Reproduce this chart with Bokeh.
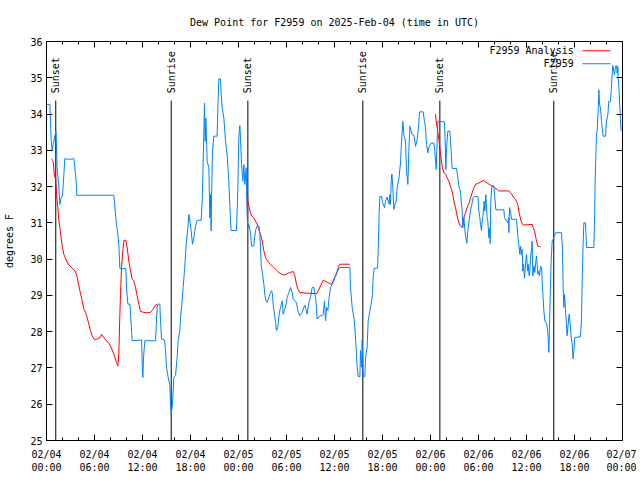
import math
from bokeh.plotting import figure
from bokeh.models import LinearAxis, FixedTicker, Label, Range1d
from bokeh.embed import file_html
from bokeh.resources import INLINE

FONT = "DejaVu Sans Mono"
FS = "10px"
RED = "#ff0000"
BLUE = "#0080ff"

title_text = "Dew Point for F2959 on 2025-Feb-04 (time in UTC)"
y_label = "degrees F"

# x axis: hours since 2025-02-04 00:00 UTC
x_ticks = [0, 6, 12, 18, 24, 30, 36, 42, 48, 54, 60, 66, 72]
x_tick_labels = ["02/04\n00:00", "02/04\n06:00", "02/04\n12:00", "02/04\n18:00",
                 "02/05\n00:00", "02/05\n06:00", "02/05\n12:00", "02/05\n18:00",
                 "02/06\n00:00", "02/06\n06:00", "02/06\n12:00", "02/06\n18:00",
                 "02/07\n00:00"]
x_minor_ticks = list(range(0, 73, 2))
y_ticks = [25, 26, 27, 28, 29, 30, 31, 32, 33, 34, 35, 36]

# observations (F2959)
obs_hours = [
    0.08, 0.42, 0.58, 0.71, 0.83, 1.00, 1.17, 1.33, 1.54, 1.67, 1.83, 2.00, 2.17, 2.29, 2.79, 3.42,
    3.54, 3.71, 3.79, 8.42, 8.50, 8.63, 8.75, 8.92, 9.04, 9.17, 9.92, 10.00, 10.17, 10.42, 10.50,
    10.63, 10.71, 11.88, 11.96, 12.04, 12.13, 12.29, 13.63, 13.71, 13.83, 13.92, 14.17, 14.25,
    14.38, 14.75, 14.88, 15.00, 15.21, 15.42, 15.50, 15.58, 15.75, 15.92, 16.13, 16.33, 16.46,
    16.67, 16.79, 16.92, 17.08, 17.25, 17.38, 17.50, 17.67, 17.79, 17.92, 18.08, 18.25, 18.42,
    18.63, 18.83, 19.33, 19.46, 19.58, 19.75, 19.83, 19.92, 20.00, 20.08, 20.29, 20.42, 20.50,
    20.58, 20.67, 20.75, 20.92, 21.33, 21.42, 21.54, 21.75, 21.83, 21.96, 22.17, 22.38, 22.58,
    22.79, 23.00, 23.08, 23.75, 23.92, 24.04, 24.17, 24.25, 24.38, 24.54, 24.67, 24.79, 24.96,
    25.08, 25.17, 25.29, 25.50, 25.63, 25.92, 26.00, 26.17, 26.33, 26.54, 26.67, 26.75, 26.83,
    27.00, 27.17, 27.29, 27.42, 27.58, 27.79, 28.00, 28.13, 28.25, 28.33, 28.50, 28.63, 28.75,
    28.92, 29.08, 29.25, 29.46, 29.58, 29.75, 29.96, 30.08, 30.29, 30.50, 30.71, 30.83, 31.04,
    31.25, 31.42, 31.67, 31.96, 32.17, 32.29, 32.42, 32.58, 32.79, 33.00, 33.21, 33.42, 33.63,
    33.75, 33.83, 34.17, 34.46, 34.58, 34.75, 34.88, 35.00, 35.17, 35.33, 35.50, 35.71, 35.92,
    36.04, 36.25, 36.42, 36.63, 37.92, 38.00, 38.21, 38.42, 38.54, 38.71, 38.83, 38.96, 39.17,
    39.25, 39.38, 39.46, 39.58, 39.79, 39.88, 40.08, 40.21, 40.42, 40.58, 40.75, 40.83, 40.96,
    41.38, 41.46, 41.58, 41.67, 41.88, 42.04, 42.25, 42.38, 42.58, 42.71, 42.83, 42.92, 43.00,
    43.08, 43.17, 43.29, 43.42, 43.54, 43.71, 43.83, 44.04, 44.25, 44.38, 44.54, 44.67, 44.88,
    45.00, 45.08, 45.17, 45.29, 45.42, 45.58, 45.71, 45.92, 46.13, 46.33, 46.46, 46.63, 47.08,
    47.25, 47.38, 47.50, 47.67, 47.83, 48.08, 48.42, 48.54, 48.63, 48.71, 48.83, 48.92, 49.75,
    49.83, 49.92, 50.00, 50.17, 50.42, 50.58, 50.71, 51.25, 51.42, 51.58, 51.75, 51.83, 51.96,
    52.04, 52.17, 52.29, 52.42, 52.54, 52.67, 52.79, 53.00, 53.17, 53.33, 53.46, 53.92, 54.04,
    54.17, 54.25, 54.38, 54.46, 54.58, 54.71, 54.79, 54.92, 55.08, 55.17, 55.29, 55.38, 55.46,
    55.54, 55.67, 55.92, 56.04, 56.17, 57.17, 57.25, 57.50, 57.67, 57.75, 57.79, 57.88, 58.00,
    58.13, 58.75, 58.92, 59.04, 59.17, 59.25, 59.38, 59.46, 59.54, 59.63, 59.75, 59.88, 60.00,
    60.13, 60.21, 60.33, 60.42, 60.50, 60.63, 60.71, 60.79, 60.92, 61.04, 61.17, 61.25, 61.33,
    61.42, 61.54, 61.63, 61.75, 61.88, 62.00, 62.08, 62.17, 62.29, 62.54, 62.63, 62.71, 62.79,
    62.88, 62.96, 63.08, 63.21, 63.42, 63.63, 64.38, 64.50, 64.58, 64.67, 64.75, 64.83, 64.96,
    65.08, 65.21, 65.33, 65.46, 65.58, 65.71, 65.83, 65.92, 66.04, 66.75, 66.88, 66.96, 67.08,
    67.17, 67.38, 67.50, 68.42, 68.50, 68.58, 68.67, 68.75, 68.83, 68.96, 69.04, 69.13, 69.25,
    69.38, 69.50, 69.58, 69.88, 70.00, 70.17, 70.29, 70.50, 70.58, 70.71, 70.79, 70.92, 71.00,
    71.13, 71.21, 71.29, 71.33, 71.42, 71.46, 71.58, 71.67, 71.75, 71.83,
]
obs_values = [
    34.26, 34.26, 33.30, 32.98, 33.16, 33.34, 33.53, 32.52, 32.01, 31.51, 31.69, 31.77, 32.33, 32.77, 32.75, 32.77,
    32.52, 32.15, 31.76, 31.76, 31.55, 31.23, 30.96, 30.68, 30.41, 29.74, 29.74, 29.22, 28.76, 28.76, 28.48,
    28.03, 27.75, 27.77, 27.20, 26.74, 27.29, 27.75, 27.75, 28.12, 28.67, 28.76, 28.76, 28.30,
    27.80, 27.77, 27.48, 27.02, 26.74, 26.51, 26.01, 25.73, 26.01, 26.74, 26.79, 27.29, 27.75,
    28.03, 28.48, 28.76, 29.22, 29.68, 30.13, 30.50, 30.87, 31.23, 31.05, 30.78, 30.41, 30.59,
    30.91, 31.07, 31.07, 31.60, 32.65, 34.30, 33.25, 33.89, 33.34, 32.70, 32.52, 31.14, 31.78,
    30.78, 32.15, 32.98, 33.39, 33.39, 34.17, 34.97, 34.97, 34.58, 34.17, 33.89, 33.25, 32.88,
    32.15, 31.05, 30.79, 30.79, 31.97, 33.34, 33.68, 33.35, 32.61, 32.15, 32.61, 32.06, 32.52,
    31.19, 30.87, 30.96, 30.73, 30.36, 30.36, 30.59, 30.82, 30.91, 30.91, 30.68, 30.32, 29.86,
    29.58, 29.31, 29.03, 28.85, 28.81, 28.94, 29.08, 29.13, 29.03, 28.76, 28.48, 28.25, 28.03,
    28.12, 28.48, 28.67, 28.85, 28.48, 28.58, 28.76, 28.94, 29.08, 29.22, 29.08, 28.90, 28.85,
    28.80, 28.58, 28.44, 28.53, 28.67, 28.73, 28.62, 28.48, 28.80, 28.94, 29.22, 29.22, 28.94,
    28.67, 28.35, 28.44, 28.44, 28.48, 28.85, 28.30, 28.67, 28.58, 28.94, 29.22, 29.31, 29.40,
    29.49, 29.63, 29.68, 29.77, 29.77, 29.22, 28.67, 28.39, 28.12, 27.52, 27.02, 26.76, 26.76,
    27.48, 27.02, 27.77, 26.76, 26.76, 27.29, 27.57, 28.30, 28.57, 28.76, 29.03, 29.49, 29.75,
    29.75, 30.24, 31.23, 31.73, 31.73, 31.55, 31.42, 31.60, 31.71, 31.60, 31.51, 31.78, 31.51,
    32.10, 32.35, 31.97, 31.37, 31.51, 31.60, 31.97, 32.20, 32.65, 33.25, 33.80, 33.43, 33.25,
    32.43, 32.29, 32.06, 32.97, 33.66, 33.53, 33.43, 33.42, 33.11, 33.30, 33.53, 34.06, 34.06,
    33.80, 33.62, 33.16, 32.93, 33.11, 33.20, 33.20, 32.97, 32.70, 32.47, 33.25, 33.80, 33.78,
    33.25, 32.47, 33.07, 33.53, 33.53, 32.97, 32.50, 32.50, 32.24, 31.97, 31.88, 31.60, 31.33,
    30.87, 31.14, 30.82, 30.59, 30.44, 30.78, 31.00, 31.33, 31.51, 31.69, 31.73, 31.73, 31.33,
    31.14, 30.96, 30.79, 31.05, 31.23, 31.60, 31.33, 31.78, 31.14, 31.05, 30.59, 30.85, 30.43,
    31.60, 32.02, 32.02, 31.69, 31.36, 31.36, 31.14, 31.05, 31.00, 31.14, 30.73, 31.42, 31.31,
    31.10, 31.10, 30.64, 30.41, 30.13, 30.36, 30.13, 30.27, 29.67, 29.86, 29.47, 29.86, 30.13,
    29.67, 29.86, 29.54, 29.67, 30.00, 30.32, 30.50, 29.54, 29.81, 29.63, 29.95, 30.09, 29.86,
    29.58, 29.67, 29.54, 29.81, 29.77, 29.22, 28.94, 28.57, 28.30, 28.21, 28.03, 27.84, 27.43,
    28.21, 28.94, 29.95, 30.50, 30.59, 30.73, 30.73, 30.23, 29.22, 28.67, 29.03, 28.76, 28.30,
    27.89, 28.21, 28.48, 28.21, 27.84, 27.66, 27.25, 27.48, 27.84, 27.86, 28.39, 29.40, 30.45,
    31.00, 31.00, 30.32, 30.32, 30.96, 32.10, 32.88, 33.43, 33.53, 34.08, 34.67, 34.26, 34.17,
    33.80, 33.53, 33.39, 33.39, 33.80, 33.98, 34.35, 34.35, 34.63, 35.08, 35.34, 35.17, 35.08,
    35.31, 35.34, 35.27, 35.13, 35.31, 34.99, 34.63, 34.17, 33.80, 33.53,
]

NAN = float("nan")
# analysis (F2959 Analysis), gaps during daytime
ana_hours = [
    0.63, 0.83, 1.00, 1.17, 1.25, 1.42, 1.54, 1.67, 1.83, 2.00, 2.17, 2.50, 2.79, 3.21, 3.54,
    3.75, 3.92, 4.17, 4.46, 4.67, 4.88, 5.08, 5.29, 5.50, 5.71, 6.00, 6.33, 6.67, 6.88, 7.17,
    7.50, 7.79, 8.08, 8.42, 8.75, 8.92, 9.04, 9.17, 9.25, 9.38, 9.50, 9.67, 9.92, 10.08, 10.29,
    10.50, 10.71, 10.92, 11.13, 11.33, 11.54, 11.75, 12.17, 12.58, 13.00, 13.33, 13.63, 13.83,
    NAN,
    25.08, 25.17, 25.42, 25.63, 25.92, 26.13, 26.33, 26.54, 26.75, 26.96, 27.17, 27.38, 27.58,
    27.79, 28.21, 28.63, 29.04, 29.46, 29.79, 30.29, 30.83, 31.00, 31.25, 31.42, 31.67, 32.58,
    33.63, 33.83, 34.25, 34.58, 35.17, 35.50, 35.71, 35.92, 36.25, 36.46, 36.67, 37.92,
    NAN,
    48.63, 48.71, 48.83, 48.96, 49.08, 49.17, 49.25, 49.38, 49.50, 49.67, 49.88, 50.08, 50.29,
    50.50, 50.63, 50.79, 50.92, 51.13, 51.33, 51.54, 51.75, 51.96, 52.17, 52.38, 52.58, 52.79,
    53.00, 53.21, 53.42, 53.63, 54.04, 54.67, 55.08, 55.50, 55.92, 56.33, 56.54, 57.79, 58.00,
    58.21, 58.42, 58.63, 58.83, 58.96, 59.04, 59.17, 59.33, 59.50, 59.67, 60.71, 60.83, 61.00,
    61.13, 61.25, 61.42, 61.75,
]
ana_values = [
    32.77, 32.70, 32.29, 32.20, 31.78, 31.42, 31.05, 30.87, 30.59, 30.32, 30.13, 29.95, 29.84, 29.75, 29.68,
    29.58, 29.40, 29.13, 28.85, 28.62, 28.53, 28.39, 28.21, 28.03, 27.89, 27.78, 27.80, 27.84, 27.93, 27.84,
    27.75, 27.68, 27.57, 27.38, 27.15, 27.06, 27.38, 28.48, 29.03, 29.77, 30.13, 30.52, 30.52, 30.32, 29.95,
    29.68, 29.45, 29.40, 29.22, 28.99, 28.76, 28.56, 28.53, 28.52, 28.53, 28.62, 28.73, 28.76,
    NAN,
    31.90, 31.60, 31.33, 31.19, 31.14, 31.05, 30.96, 30.82, 30.68, 30.50, 30.23, 30.04, 29.97,
    29.90, 29.81, 29.72, 29.63, 29.58, 29.56, 29.62, 29.66, 29.58, 29.31, 29.17, 29.08, 29.06,
    29.05, 29.06, 29.26, 29.42, 29.35, 29.31, 29.33, 29.45, 29.58, 29.77, 29.86, 29.86,
    NAN,
    34.00, 33.80, 33.62, 33.43, 33.25, 33.07, 32.88, 32.70, 32.52, 32.38, 32.35, 32.24, 32.15,
    32.01, 31.92, 31.78, 31.60, 31.42, 31.19, 31.00, 30.91, 30.88, 31.14, 31.28, 31.42, 31.53,
    31.69, 31.83, 31.97, 32.06, 32.10, 32.17, 32.10, 32.04, 31.98, 31.92, 31.88, 31.88, 31.83,
    31.77, 31.69, 31.65, 31.55, 31.46, 31.33, 31.19, 31.05, 30.96, 30.94, 30.96, 30.87, 30.78,
    30.64, 30.50, 30.36, 30.34,
]

# sunrise / sunset markers (hours since start)
sun_event_hours = [1.16, 15.59, 25.17, 39.54, 49.17, 63.41]
sun_event_names = ["Sunset", "Sunrise", "Sunset", "Sunrise", "Sunset", "Sunrise"]

series_names = ["F2959 Analysis", "F2959"]

# ---------------------------------------------------------------- layout / style
SUN_LINE_TOP = 34.37
SUN_LABEL_Y = 34.57
LEG_TEXT_X = 65.9
LEG_LINE_X0, LEG_LINE_X1 = 67.0, 70.5
LEG_Y = [35.744, 35.387]

p = figure(width=636, height=476, output_backend="svg", toolbar_location=None,
           x_range=Range1d(0, 72), y_range=Range1d(25, 36),
           x_axis_type=None, y_axis_type=None,
           min_border_left=46, min_border_right=14, min_border_top=40, min_border_bottom=36,
           background_fill_color="white", border_fill_color="white")
p.grid.visible = False
p.outline_line_color = "black"
p.outline_line_width = 1

p.title.text = title_text
p.title.align = "center"
p.title.text_font = FONT
p.title.text_font_size = FS
p.title.text_font_style = "normal"
p.title.text_color = "black"
p.title.standoff = 28


def style_axis(ax, show_labels):
    ax.axis_line_color = "black"
    ax.major_tick_line_color = "black"
    ax.minor_tick_line_color = "black"
    ax.major_tick_in = 6
    ax.major_tick_out = 0
    ax.minor_tick_in = 3
    ax.minor_tick_out = 0
    ax.major_label_text_font = FONT
    ax.major_label_text_color = "black"
    ax.major_label_text_font_size = FS
    if not show_labels:
        ax.major_label_overrides = {t: "" for t in ax.ticker.ticks}
        ax.major_label_standoff = 0


xt = FixedTicker(ticks=x_ticks, minor_ticks=x_minor_ticks)
yt = FixedTicker(ticks=y_ticks, minor_ticks=[])

xb = LinearAxis(ticker=xt)
style_axis(xb, True)
xb.major_label_overrides = {t: lab for t, lab in zip(x_ticks, x_tick_labels)}
xb.major_label_standoff = 8
p.add_layout(xb, "below")

xa = LinearAxis(ticker=FixedTicker(ticks=x_ticks, minor_ticks=x_minor_ticks))
style_axis(xa, False)
p.add_layout(xa, "above")

yl = LinearAxis(ticker=yt)
style_axis(yl, True)
yl.major_label_standoff = 4
yl.axis_label = y_label
yl.axis_label_text_font = FONT
yl.axis_label_text_font_size = FS
yl.axis_label_text_font_style = "normal"
yl.axis_label_text_color = "black"
yl.axis_label_standoff = 12
p.add_layout(yl, "left")

yr = LinearAxis(ticker=FixedTicker(ticks=y_ticks, minor_ticks=[]))
style_axis(yr, False)
p.add_layout(yr, "right")

# sunrise / sunset lines and labels
p.segment(x0=sun_event_hours, y0=[25] * len(sun_event_hours),
          x1=sun_event_hours, y1=[SUN_LINE_TOP] * len(sun_event_hours),
          line_color="black", line_width=1)
for h, name in zip(sun_event_hours, sun_event_names):
    p.add_layout(Label(x=h, y=SUN_LABEL_Y, text=name, angle=math.pi / 2,
                       text_align="left", text_baseline="middle",
                       text_font=FONT, text_font_size=FS, text_color="black"))

# data
p.line(ana_hours, ana_values, line_color=RED, line_width=1)
p.line(obs_hours, obs_values, line_color=BLUE, line_width=1)

# legend (text right, sample line to the right)
for name, yy, col in zip(series_names, LEG_Y, [RED, BLUE]):
    p.add_layout(Label(x=LEG_TEXT_X, y=yy, text=name, text_align="right",
                       text_baseline="middle", text_font=FONT, text_font_size=FS,
                       text_color="black"))
p.segment(x0=[LEG_LINE_X0] * 2, x1=[LEG_LINE_X1] * 2, y0=LEG_Y, y1=LEG_Y,
          line_color=[RED, BLUE], line_width=1)

open("out.html", "w").write(file_html(p, INLINE))
